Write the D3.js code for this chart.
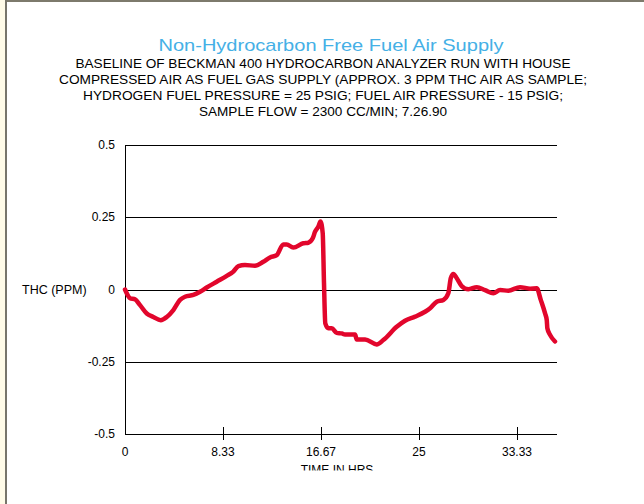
<!DOCTYPE html>
<html>
<head>
<meta charset="utf-8">
<script src="https://cdn.jsdelivr.net/npm/d3@7"></script>
<style>
  body { margin: 0; background: #fff; }
  svg { display: block; font-family: "Liberation Sans", Arial, sans-serif; }
</style>
</head>
<body>
<svg width="644" height="504"></svg>
<script>
var titleText = "Non-Hydrocarbon Free Fuel Air Supply";
var subtitleLines = [
  "BASELINE OF BECKMAN 400 HYDROCARBON ANALYZER RUN WITH HOUSE",
  "COMPRESSED AIR AS FUEL GAS SUPPLY (APPROX. 3 PPM THC AIR AS SAMPLE;",
  "HYDROGEN FUEL PRESSURE = 25 PSIG; FUEL AIR PRESSURE - 15 PSIG;",
  "SAMPLE FLOW = 2300 CC/MIN; 7.26.90"
];
var subtitleWidths = [495, 528, 480, 248];
var xLabel = "TIME IN HRS";
var yLabel = "THC (PPM)";

// tick values and their printed labels
var xTicks = [0, 8.333, 16.667, 25, 33.333];
var xTickLabels = ["0", "8.33", "16.67", "25", "33.33"];
var yTicks = [0.5, 0.25, 0, -0.25, -0.5];
var yTickLabels = ["0.5", "0.25", "0", "-0.25", "-0.5"];

// hours
var hours = [0, 0.43, 0.85, 1.28, 1.85, 2.41, 3.04, 3.55, 4.11, 4.68, 5.10, 5.81,
  6.38, 6.95, 7.80, 8.65, 9.21, 9.64, 10.20, 11.05, 11.76, 12.33, 12.90, 13.46,
  13.75, 14.31, 15.16, 15.59, 15.96, 16.16, 16.44, 16.62, 16.81, 16.92, 17.03,
  17.29, 17.58, 18.00, 18.43, 18.71, 19.56, 19.70, 20.41, 21.40, 21.96, 23.10,
  23.81, 24.66, 25.51, 25.94, 26.51, 27.07, 27.49, 27.70, 27.92, 28.21, 28.63,
  29.19, 29.91, 30.61, 31.32, 31.89, 32.59, 33.59, 34.44, 35.01, 35.35, 35.71,
  35.86, 35.91, 36.14, 36.56];
// THC in ppm
var thc = [0, -0.030, -0.034, -0.054, -0.083, -0.095, -0.106, -0.095, -0.071, -0.036,
  -0.025, -0.019, -0.008, 0.007, 0.027, 0.047, 0.062, 0.081, 0.085, 0.082, 0.096,
  0.111, 0.119, 0.156, 0.156, 0.145, 0.160, 0.162, 0.177, 0.200, 0.218, 0.235,
  0.195, 0.021, -0.117, -0.134, -0.134, -0.150, -0.152, -0.156, -0.156, -0.173,
  -0.173, -0.190, -0.175, -0.129, -0.108, -0.094, -0.077, -0.065, -0.042, -0.036,
  -0.013, 0.039, 0.054, 0.039, 0.012, 0.001, 0.008, -0.002, -0.013, -0.002, -0.004,
  0.008, 0.003, 0.004, -0.036, -0.082, -0.106, -0.134, -0.157, -0.180];

function render() {
  var svg = d3.select("svg");

  // page frame: cream margin on the left, grey rule on top and left
  svg.append("rect").attr("x", 0).attr("y", 0).attr("width", 644).attr("height", 504).attr("fill", "#fffbe8");
  svg.append("rect").attr("x", 6).attr("y", 0).attr("width", 638).attr("height", 504).attr("fill", "#fff");
  svg.append("rect").attr("x", 5).attr("y", 0).attr("width", 639).attr("height", 2).attr("fill", "#7d7a6c");
  svg.append("rect").attr("x", 5).attr("y", 0).attr("width", 2).attr("height", 504).attr("fill", "#77756b");

  svg.append("text")
      .attr("x", 331).attr("y", 51)
      .attr("text-anchor", "middle")
      .attr("textLength", 345)
      .attr("lengthAdjust", "spacingAndGlyphs")
      .style("font-size", "17px")
      .style("fill", "#45b0e6")
      .text(titleText);

  svg.append("g").selectAll("text")
    .data(subtitleLines)
    .enter().append("text")
      .attr("x", 323)
      .attr("y", function(d, i) { return 67.5 + i * 16.3; })
      .attr("text-anchor", "middle")
      .attr("textLength", function(d, i) { return subtitleWidths[i]; })
      .attr("lengthAdjust", "spacingAndGlyphs")
      .style("font-size", "13px")
      .style("fill", "#000")
      .text(function(d) { return d; });

  var x = d3.scaleLinear().domain([0, 36.73]).range([125, 557]);
  var y = d3.scaleLinear().domain([-0.5, 0.5]).range([434, 145]);

  // horizontal rules
  svg.append("g").selectAll("line")
    .data(yTicks)
    .enter().append("line")
      .attr("x1", x(0)).attr("x2", x(36.73))
      .attr("y1", function(d) { return Math.round(y(d)) + 0.5; })
      .attr("y2", function(d) { return Math.round(y(d)) + 0.5; })
      .style("stroke", "#000")
      .style("stroke-width", 1.1);

  // left axis line
  svg.append("line")
      .attr("x1", x(0) + 0.5).attr("x2", x(0) + 0.5)
      .attr("y1", y(0.5)).attr("y2", y(-0.5))
      .style("stroke", "#000");

  // x ticks
  svg.append("g").selectAll("line")
    .data(xTicks.slice(1))
    .enter().append("line")
      .attr("x1", function(d) { return Math.round(x(d)) + 0.5; })
      .attr("x2", function(d) { return Math.round(x(d)) + 0.5; })
      .attr("y1", y(-0.5) - 7).attr("y2", y(-0.5) + 6)
      .style("stroke", "#000");

  svg.append("g").selectAll("text")
    .data(xTicks)
    .enter().append("text")
      .attr("x", function(d) { return x(d); })
      .attr("y", 456)
      .attr("text-anchor", "middle")
      .style("font-size", "12px")
      .text(function(d, i) { return xTickLabels[i]; });

  svg.append("g").selectAll("text")
    .data(yTicks)
    .enter().append("text")
      .attr("x", 115)
      .attr("y", function(d) { return y(d) + 4; })
      .attr("text-anchor", "end")
      .style("font-size", "12px")
      .text(function(d, i) { return yTickLabels[i]; });

  svg.append("text")
      .attr("x", 22).attr("y", y(0) + 4)
      .style("font-size", "12.5px")
      .text(yLabel);

  // the axis title is cut off at the bottom in the original
  svg.append("clipPath").attr("id", "cut")
    .append("rect").attr("x", 0).attr("y", 0).attr("width", 644).attr("height", 470.5);
  svg.append("text")
      .attr("x", 337).attr("y", 474)
      .attr("text-anchor", "middle")
      .attr("clip-path", "url(#cut)")
      .style("font-size", "12px")
      .text(xLabel);

  var line = d3.line()
      .x(function(d, i) { return x(hours[i]); })
      .y(function(d) { return y(d); })
      .curve(d3.curveMonotoneX);

  svg.append("path")
      .datum(thc)
      .attr("d", line)
      .style("fill", "none")
      .style("stroke", "#e2062c")
      .style("stroke-width", 4.5)
      .style("stroke-linejoin", "round")
      .style("stroke-linecap", "round");
}

render();
</script>
</body>
</html>
